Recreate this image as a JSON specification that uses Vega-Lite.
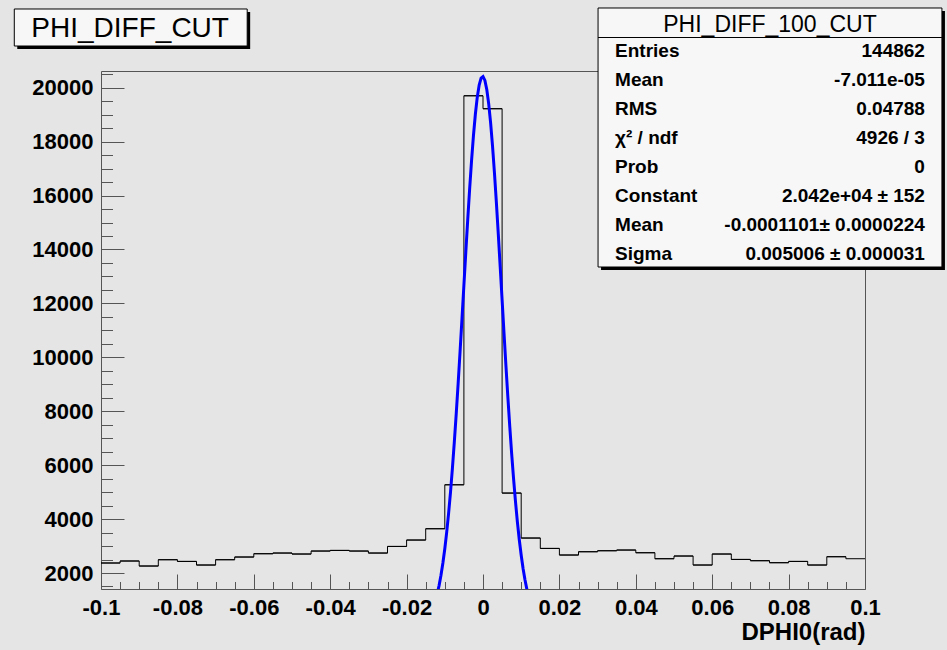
{
  "$schema": "https://vega.github.io/schema/vega-lite/v6.json",
  "width": 764,
  "height": 518,
  "autosize": "none",
  "padding": {"left": 101, "top": 71, "right": 82, "bottom": 61},
  "background": "#e5e5e5",
  "config": {
    "font": "Liberation Sans",
    "view": {"stroke": "#555555", "strokeWidth": 1, "fill": null},
    "axis": {"grid": false, "domain": false, "tickColor": "#555555", "tickWidth": 1, "labelColor": "black", "titleColor": "black", "labelFont": "Liberation Sans", "titleFont": "Liberation Sans", "labelFlush": false, "labelOverlap": false}
  },
  "datasets": {
    "bins": [
      {"lo": -0.1, "hi": -0.095, "count": 2371},
      {"lo": -0.095, "hi": -0.09, "count": 2445},
      {"lo": -0.09, "hi": -0.085, "count": 2259},
      {"lo": -0.085, "hi": -0.08, "count": 2493},
      {"lo": -0.08, "hi": -0.075, "count": 2430},
      {"lo": -0.075, "hi": -0.07, "count": 2296},
      {"lo": -0.07, "hi": -0.065, "count": 2493},
      {"lo": -0.065, "hi": -0.06, "count": 2593},
      {"lo": -0.06, "hi": -0.055, "count": 2715},
      {"lo": -0.055, "hi": -0.05, "count": 2741},
      {"lo": -0.05, "hi": -0.045, "count": 2704},
      {"lo": -0.045, "hi": -0.04, "count": 2815},
      {"lo": -0.04, "hi": -0.035, "count": 2838},
      {"lo": -0.035, "hi": -0.03, "count": 2815},
      {"lo": -0.03, "hi": -0.025, "count": 2741},
      {"lo": -0.025, "hi": -0.02, "count": 2986},
      {"lo": -0.02, "hi": -0.015, "count": 3223},
      {"lo": -0.015, "hi": -0.01, "count": 3642},
      {"lo": -0.01, "hi": -0.005, "count": 5272},
      {"lo": -0.005, "hi": 0, "count": 19700},
      {"lo": 0, "hi": 0.005, "count": 19220},
      {"lo": 0.005, "hi": 0.01, "count": 4965},
      {"lo": 0.01, "hi": 0.015, "count": 3297},
      {"lo": 0.015, "hi": 0.02, "count": 2912},
      {"lo": 0.02, "hi": 0.025, "count": 2667},
      {"lo": 0.025, "hi": 0.03, "count": 2789},
      {"lo": 0.03, "hi": 0.035, "count": 2826},
      {"lo": 0.035, "hi": 0.04, "count": 2852},
      {"lo": 0.04, "hi": 0.045, "count": 2752},
      {"lo": 0.045, "hi": 0.05, "count": 2530},
      {"lo": 0.05, "hi": 0.055, "count": 2630},
      {"lo": 0.055, "hi": 0.06, "count": 2296},
      {"lo": 0.06, "hi": 0.065, "count": 2704},
      {"lo": 0.065, "hi": 0.07, "count": 2504},
      {"lo": 0.07, "hi": 0.075, "count": 2456},
      {"lo": 0.075, "hi": 0.08, "count": 2382},
      {"lo": 0.08, "hi": 0.085, "count": 2430},
      {"lo": 0.085, "hi": 0.09, "count": 2296},
      {"lo": 0.09, "hi": 0.095, "count": 2604},
      {"lo": 0.095, "hi": 0.1, "count": 2530}
    ],
    "fit": [
      {"x": -0.012, "f": 1216}, {"x": -0.0115, "f": 1534}, {"x": -0.011, "f": 1916}, {"x": -0.0105, "f": 2369},
      {"x": -0.01, "f": 2901}, {"x": -0.0095, "f": 3516}, {"x": -0.009, "f": 4219}, {"x": -0.0085, "f": 5013},
      {"x": -0.008, "f": 5897}, {"x": -0.0075, "f": 6869}, {"x": -0.007, "f": 7920}, {"x": -0.0065, "f": 9041},
      {"x": -0.006, "f": 10220}, {"x": -0.0055, "f": 11437}, {"x": -0.005, "f": 12673}, {"x": -0.0045, "f": 13902},
      {"x": -0.004, "f": 15098}, {"x": -0.0035, "f": 16236}, {"x": -0.003, "f": 17286}, {"x": -0.0025, "f": 18220},
      {"x": -0.002, "f": 19015}, {"x": -0.0015, "f": 19648}, {"x": -0.001, "f": 20100}, {"x": -0.0005, "f": 20358},
      {"x": 0, "f": 20415}, {"x": 0.0005, "f": 20269}, {"x": 0.001, "f": 19924}, {"x": 0.0015, "f": 19391},
      {"x": 0.002, "f": 18684}, {"x": 0.0025, "f": 17825}, {"x": 0.003, "f": 16836}, {"x": 0.0035, "f": 15745},
      {"x": 0.004, "f": 14578}, {"x": 0.0045, "f": 13363}, {"x": 0.005, "f": 12128}, {"x": 0.0055, "f": 10898},
      {"x": 0.006, "f": 9696}, {"x": 0.0065, "f": 8540}, {"x": 0.007, "f": 7448}, {"x": 0.0075, "f": 6430},
      {"x": 0.008, "f": 5497}, {"x": 0.0085, "f": 4653}, {"x": 0.009, "f": 3899}, {"x": 0.0095, "f": 3234},
      {"x": 0.01, "f": 2657}, {"x": 0.0105, "f": 2161}, {"x": 0.011, "f": 1740}, {"x": 0.0115, "f": 1387},
      {"x": 0.012, "f": 1095}
    ],
    "stats": [
      {"line": 1, "stat": "Entries", "value": "144862"},
      {"line": 2, "stat": "Mean", "value": "-7.011e-05"},
      {"line": 3, "stat": "RMS", "value": "0.04788"},
      {"line": 4, "stat": "χ² / ndf", "value": "4926 / 3"},
      {"line": 5, "stat": "Prob", "value": "0"},
      {"line": 6, "stat": "Constant", "value": "2.042e+04 ± 152"},
      {"line": 7, "stat": "Mean", "value": "-0.0001101± 0.0000224"},
      {"line": 8, "stat": "Sigma", "value": "0.005006 ± 0.000031"}
    ]
  },
  "layer": [
    {
      "data": {"name": "bins"},
      "mark": {"type": "line", "interpolate": "step-after", "color": "black", "strokeWidth": 1},
      "encoding": {
        "x": {"field": "lo", "type": "quantitative", "scale": {"domain": [-0.1, 0.1], "nice": false, "zero": false},
          "axis": {"orient": "bottom", "values": [-0.1, -0.08, -0.06, -0.04, -0.02, 0, 0.02, 0.04, 0.06, 0.08, 0.1], "labelExpr": "'' + datum.value", "tickSize": -15, "labelPadding": 23, "labelFontSize": 22, "labelFontWeight": "bold", "title": "DPHI0(rad)", "titleAnchor": "end", "titleFontSize": 24, "titleFontWeight": "bold", "titlePadding": 2}},
        "y": {"field": "count", "type": "quantitative", "scale": {"domain": [1407, 20619], "nice": false, "zero": false},
          "axis": {"orient": "left", "values": [2000, 4000, 6000, 8000, 10000, 12000, 14000, 16000, 18000, 20000], "format": "d", "tickSize": -23, "labelPadding": 31, "labelFontSize": 22, "labelFontWeight": "bold", "title": null}}
      }
    },
    {
      "data": {"name": "bins"},
      "mark": {"type": "rule", "color": "black", "strokeWidth": 1},
      "encoding": {
        "x": {"field": "lo", "type": "quantitative", "scale": {"domain": [-0.1, 0.1], "nice": false, "zero": false}, "axis": null},
        "x2": {"field": "hi"},
        "y": {"field": "count", "type": "quantitative", "scale": {"domain": [1407, 20619], "nice": false, "zero": false}, "axis": null}
      }
    },
    {
      "data": {"name": "fit"},
      "mark": {"type": "line", "color": "#0000ff", "strokeWidth": 3, "clip": true},
      "encoding": {
        "x": {"field": "x", "type": "quantitative", "scale": {"domain": [-0.1, 0.1], "nice": false, "zero": false},
          "axis": {"orient": "bottom", "values": [-0.095, -0.09, -0.085, -0.075, -0.07, -0.065, -0.055, -0.05, -0.045, -0.035, -0.03, -0.025, -0.015, -0.01, -0.005, 0.005, 0.01, 0.015, 0.025, 0.03, 0.035, 0.045, 0.05, 0.055, 0.065, 0.07, 0.075, 0.085, 0.09, 0.095], "labels": false, "tickSize": -7.5, "title": null}},
        "y": {"field": "f", "type": "quantitative", "scale": {"domain": [1407, 20619], "nice": false, "zero": false},
          "axis": {"orient": "left", "values": [1500, 2500, 3000, 3500, 4500, 5000, 5500, 6500, 7000, 7500, 8500, 9000, 9500, 10500, 11000, 11500, 12500, 13000, 13500, 14500, 15000, 15500, 16500, 17000, 17500, 18500, 19000, 19500, 20500], "labels": false, "tickSize": -11.5, "title": null}}
      }
    },
    {
      "data": {"values": [{"box": "title shadow"}]},
      "mark": {"type": "rect", "color": "black"},
      "encoding": {
        "x": {"datum": -0.12192, "type": "quantitative", "scale": {"domain": [-0.1, 0.1], "nice": false, "zero": false}, "axis": null},
        "x2": {"datum": -0.06095},
        "y": {"datum": -0.5517, "type": "quantitative", "scale": {"domain": [1.48276, 19.3448], "nice": false, "zero": false, "reverse": true}, "axis": null},
        "y2": {"datum": 0.7241}
      }
    },
    {
      "data": {"values": [{"box": "title"}]},
      "mark": {"type": "rect", "fill": "#f7f7f7", "stroke": "black", "strokeWidth": 1},
      "encoding": {
        "x": {"datum": -0.1227, "type": "quantitative", "scale": {"domain": [-0.1, 0.1], "nice": false, "zero": false}, "axis": null},
        "x2": {"datum": -0.06173},
        "y": {"datum": -0.6552, "type": "quantitative", "scale": {"domain": [1.48276, 19.3448], "nice": false, "zero": false, "reverse": true}, "axis": null},
        "y2": {"datum": 0.6207}
      }
    },
    {
      "data": {"values": [{"name": "PHI_DIFF_CUT"}]},
      "mark": {"type": "text", "align": "center", "baseline": "alphabetic", "fontSize": 28, "fontWeight": "normal", "font": "Liberation Sans", "color": "black"},
      "encoding": {
        "x": {"datum": -0.09237, "type": "quantitative", "scale": {"domain": [-0.1, 0.1], "nice": false, "zero": false}, "axis": null},
        "y": {"datum": 0.3, "type": "quantitative", "scale": {"domain": [1.48276, 19.3448], "nice": false, "zero": false, "reverse": true}, "axis": null},
        "text": {"field": "name"}
      }
    },
    {
      "data": {"values": [{"box": "stats shadow"}]},
      "mark": {"type": "rect", "color": "black"},
      "encoding": {
        "x": {"datum": 0.0309, "type": "quantitative", "scale": {"domain": [-0.1, 0.1], "nice": false, "zero": false}, "axis": null},
        "x2": {"datum": 0.12093},
        "y": {"datum": -0.5862, "type": "quantitative", "scale": {"domain": [1.48276, 19.3448], "nice": false, "zero": false, "reverse": true}, "axis": null},
        "y2": {"datum": 8.3448}
      }
    },
    {
      "data": {"values": [{"box": "stats"}]},
      "mark": {"type": "rect", "fill": "#f7f7f7", "stroke": "black", "strokeWidth": 1},
      "encoding": {
        "x": {"datum": 0.03012, "type": "quantitative", "scale": {"domain": [-0.1, 0.1], "nice": false, "zero": false}, "axis": null},
        "x2": {"datum": 0.12014},
        "y": {"datum": -0.6897, "type": "quantitative", "scale": {"domain": [1.48276, 19.3448], "nice": false, "zero": false, "reverse": true}, "axis": null},
        "y2": {"datum": 8.2414}
      }
    },
    {
      "data": {"values": [{"name": "PHI_DIFF_100_CUT"}]},
      "mark": {"type": "text", "align": "center", "baseline": "alphabetic", "fontSize": 23, "fontWeight": "normal", "font": "Liberation Sans", "color": "black"},
      "encoding": {
        "x": {"datum": 0.07513, "type": "quantitative", "scale": {"domain": [-0.1, 0.1], "nice": false, "zero": false}, "axis": null},
        "y": {"datum": 0.1207, "type": "quantitative", "scale": {"domain": [1.48276, 19.3448], "nice": false, "zero": false, "reverse": true}, "axis": null},
        "text": {"field": "name"}
      }
    },
    {
      "data": {"values": [{"box": "separator"}]},
      "mark": {"type": "rule", "color": "black", "strokeWidth": 1},
      "encoding": {
        "x": {"datum": 0.03012, "type": "quantitative", "scale": {"domain": [-0.1, 0.1], "nice": false, "zero": false}, "axis": null},
        "x2": {"datum": 0.12014},
        "y": {"datum": 0.3276, "type": "quantitative", "scale": {"domain": [1.48276, 19.3448], "nice": false, "zero": false, "reverse": true}, "axis": null}
      }
    },
    {
      "data": {"name": "stats"},
      "mark": {"type": "text", "align": "left", "baseline": "alphabetic", "fontSize": 19, "fontWeight": "bold", "font": "Liberation Sans", "color": "black"},
      "encoding": {
        "x": {"datum": 0.03457, "type": "quantitative", "scale": {"domain": [-0.1, 0.1], "nice": false, "zero": false}, "axis": null},
        "y": {"field": "line", "type": "quantitative", "scale": {"domain": [1.48276, 19.3448], "nice": false, "zero": false, "reverse": true}, "axis": null},
        "text": {"field": "stat"}
      }
    },
    {
      "data": {"name": "stats"},
      "mark": {"type": "text", "align": "right", "baseline": "alphabetic", "fontSize": 19, "fontWeight": "bold", "font": "Liberation Sans", "color": "black"},
      "encoding": {
        "x": {"datum": 0.11569, "type": "quantitative", "scale": {"domain": [-0.1, 0.1], "nice": false, "zero": false}, "axis": null},
        "y": {"field": "line", "type": "quantitative", "scale": {"domain": [1.48276, 19.3448], "nice": false, "zero": false, "reverse": true}, "axis": null},
        "text": {"field": "value"}
      }
    }
  ],
  "resolve": {"scale": {"y": "independent"}, "axis": {"x": "independent", "y": "independent"}}
}
